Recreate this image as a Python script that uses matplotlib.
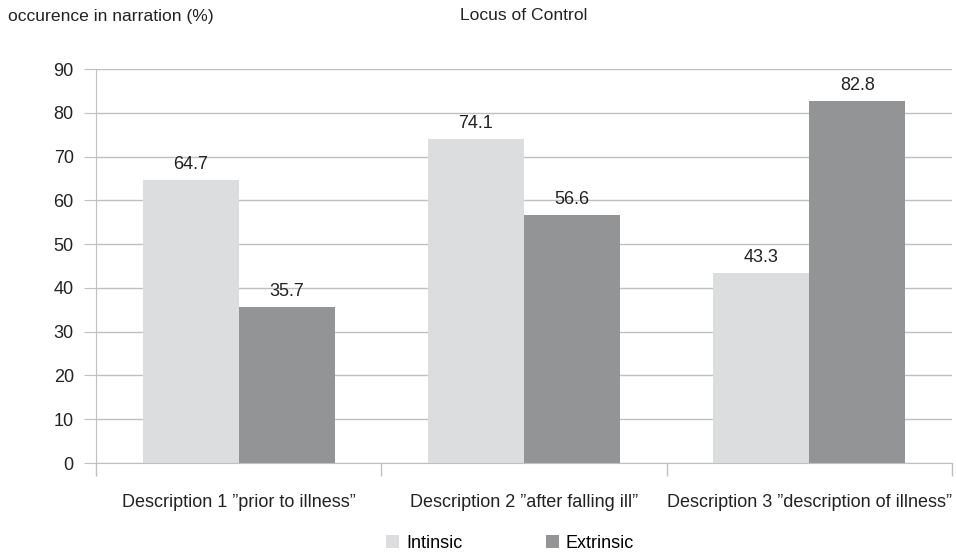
import numpy as np
import matplotlib.pyplot as plt

categories = ['Description 1 \u201dprior to illness\u201d',
              'Description 2 \u201dafter falling ill\u201d',
              'Description 3 \u201ddescription of illness\u201d']
intrinsic = [64.7, 74.1, 43.3]
extrinsic = [35.7, 56.6, 82.8]
series_names = ['Intinsic', 'Extrinsic']

plt.rcParams['font.family'] = ['Liberation Sans', 'DejaVu Sans']

fig = plt.figure(figsize=(9.56, 5.56), dpi=100)
ax = fig.add_axes([96 / 956, 1 - 463 / 556, (952 - 96) / 956, (463 - 69) / 556])

x = np.arange(len(categories))
w = 0.337
light = '#dcdddf'
dark = '#939496'
b1 = ax.bar(x - w / 2, intrinsic, w, color=light, label=series_names[0], zorder=2)
b2 = ax.bar(x + w / 2, extrinsic, w, color=dark, label=series_names[1], zorder=2)

for bars in (b1, b2):
    for r in bars:
        ax.text(r.get_x() + r.get_width() / 2, r.get_height() + 1.6, f'{r.get_height():.1f}',
                ha='center', va='bottom', fontsize=13, color='#222222')

ax.set_xlim(-0.5, len(categories) - 0.5)
ax.set_ylim(0, 90)
ax.set_yticks(range(0, 91, 10))
ax.yaxis.grid(True, color='#c0c0c0', linewidth=1, zorder=0)
ax.tick_params(axis='y', length=9, color='#c0c0c0', labelsize=13, pad=7, labelcolor='#222222')

# category separators as ticks
ax.set_xticks(np.arange(-0.5, len(categories), 1.0))
ax.set_xticklabels([])
ax.set_xticks(x, minor=True)
ax.set_xticklabels(categories, minor=True, fontsize=13, color='#222222')
ax.tick_params(axis='x', which='major', length=9, color='#c0c0c0', width=1)
ax.tick_params(axis='x', which='minor', length=0, pad=22)

for s in ['top', 'right']:
    ax.spines[s].set_visible(False)
for s in ['left', 'bottom']:
    ax.spines[s].set_color('#c0c0c0')

fig.text(8 / 956, 1 - 16 / 556, 'occurence in narration (%)', fontsize=12.6, va='center', color='#222222')
fig.text(524 / 956, 1 - 16 / 556, 'Locus of Control', fontsize=12.6, va='center', ha='center', color='#222222')

fig.legend(loc='center', bbox_to_anchor=(510 / 956, 1 - 543 / 556), ncol=2, frameon=False,
           fontsize=13, handlelength=0.72, handleheight=0.72, columnspacing=4.6, handletextpad=0.4,
           borderpad=0.1)

fig.savefig('out.png', dpi=100)
